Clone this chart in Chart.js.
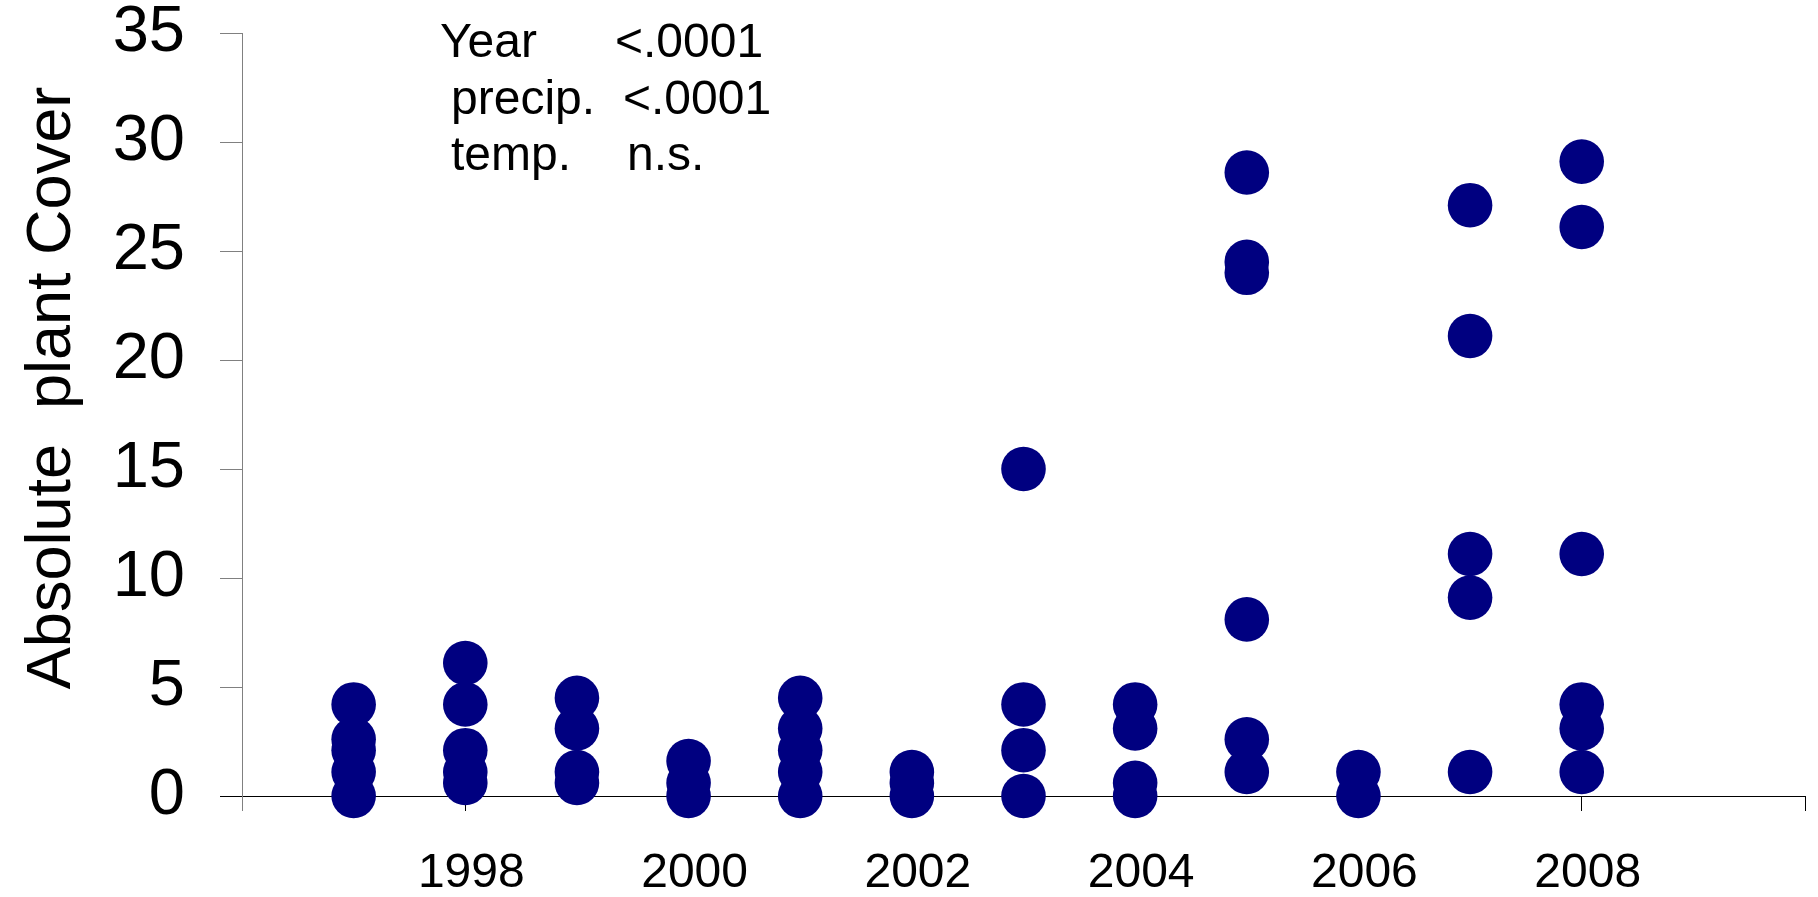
<!DOCTYPE html>
<html>
<head>
<meta charset="utf-8">
<script src="https://cdn.jsdelivr.net/npm/chart.js@4/dist/chart.umd.min.js"></script>
<style>
  html, body { margin: 0; padding: 0; background: #ffffff; }
  #wrap { width: 1818px; height: 897px; }
</style>
</head>
<body>
<div id="wrap"><canvas id="cover" width="1818" height="897"></canvas></div>
<script>
// Survey years and the absolute plant cover measured in each plot that year
const years = [1997, 1998, 1999, 2000, 2001, 2002, 2003, 2004, 2005, 2006, 2007, 2008];
const cover1997 = [4.2, 2.6, 2.1, 1.1, 0];
const cover1998 = [6.1, 4.2, 2.1, 1.1, 0.6];
const cover1999 = [4.5, 3.1, 1.1, 0.6];
const cover2000 = [1.6, 0.6, 0];
const cover2001 = [4.5, 3.1, 2.1, 1.1, 0];
const cover2002 = [1.1, 0.6, 0];
const cover2003 = [15.0, 4.2, 2.1, 0];
const cover2004 = [4.2, 3.1, 0.6, 0];
const cover2005 = [28.6, 24.5, 24.0, 8.1, 2.6, 1.1];
const cover2006 = [1.1, 0];
const cover2007 = [27.1, 21.1, 11.1, 9.1, 1.1];
const cover2008 = [29.1, 26.1, 11.1, 4.2, 3.1, 1.1];
const coverPerYear = [cover1997, cover1998, cover1999, cover2000, cover2001, cover2002,
                      cover2003, cover2004, cover2005, cover2006, cover2007, cover2008];

// Axis ticks
const xTickYears = [1996, 1998, 2000, 2002, 2004, 2006, 2008, 2010];
const xLabelYears = [1998, 2000, 2002, 2004, 2006, 2008];
const xTickMarkYears = [1996, 1998, 2008, 2010];
const yTicks = [0, 5, 10, 15, 20, 25, 30, 35];

// Model significance summary
const statTerms = ['Year', 'precip.', 'temp.'];
const statPValues = ['<.0001', '<.0001', 'n.s.'];

const yTitle = 'Absolute  plant Cover';

const points = [];
years.forEach((yr, i) => {
  coverPerYear[i].forEach(v => points.push({ x: yr, y: v }));
});

const FONT = "'Liberation Sans', Arial, Helvetica, sans-serif";

// Vertical axis title and the significance table
const textPlugin = {
  id: 'coverText',
  afterDraw(chart) {
    const ctx = chart.ctx;
    ctx.save();
    ctx.fillStyle = '#000000';
    ctx.font = '63px ' + FONT;
    ctx.textAlign = 'center';
    ctx.textBaseline = 'alphabetic';
    ctx.translate(70, 388);
    ctx.rotate(-Math.PI / 2);
    ctx.fillText(yTitle, 0, 0);
    ctx.restore();

    ctx.save();
    ctx.fillStyle = '#000000';
    ctx.font = '48px ' + FONT;
    ctx.textAlign = 'left';
    ctx.textBaseline = 'alphabetic';
    const termX = [440, 451, 451];
    const pX = [615, 623, 627];
    const baseY = [57, 114, 170];
    statTerms.forEach((t, i) => {
      ctx.fillText(t, termX[i], baseY[i]);
      ctx.fillText(statPValues[i], pX[i], baseY[i]);
    });
    ctx.restore();
  }
};

new Chart(document.getElementById('cover'), {
  type: 'scatter',
  data: {
    datasets: [{
      data: points,
      backgroundColor: '#000080',
      borderWidth: 0,
      pointRadius: 22.3,
      pointHoverRadius: 22.3,
      clip: false
    }]
  },
  options: {
    responsive: false,
    animation: false,
    events: [],
    layout: { autoPadding: false, padding: { top: 33, right: 13, left: 0, bottom: 0 } },
    plugins: {
      legend: { display: false },
      tooltip: { enabled: false },
      title: { display: false }
    },
    scales: {
      x: {
        type: 'linear',
        min: 1996,
        max: 2010,
        afterBuildTicks(scale) {
          scale.ticks = xTickYears.map(v => ({ value: v }));
        },
        afterFit(scale) {
          scale.height = 101;
          scale.paddingLeft = 0;
          scale.paddingRight = 0;
        },
        border: { display: true, color: '#000000', width: 1 },
        grid: {
          drawOnChartArea: false,
          drawTicks: true,
          tickLength: 15,
          lineWidth: 1,
          tickColor: (c) => {
            const v = c.tick ? c.tick.value : null;
            if (v === 1996) return '#808080';
            return xTickMarkYears.includes(v) ? '#000000' : 'rgba(0,0,0,0)';
          }
        },
        ticks: {
          autoSkip: false,
          maxRotation: 0,
          minRotation: 0,
          padding: 34,
          labelOffset: 6,
          color: '#000000',
          font: { family: FONT, size: 48, lineHeight: 1.2 },
          callback: (v) => xLabelYears.includes(v) ? String(v) : ''
        }
      },
      y: {
        type: 'linear',
        min: 0,
        max: 35,
        afterBuildTicks(scale) {
          scale.ticks = yTicks.map(v => ({ value: v }));
        },
        afterFit(scale) {
          scale.width = 242;
          scale.paddingTop = 0;
          scale.paddingBottom = 0;
        },
        border: { display: true, color: '#808080', width: 1 },
        grid: {
          drawOnChartArea: false,
          drawTicks: true,
          tickLength: 22,
          lineWidth: 1,
          tickColor: (c) => (c.tick && c.tick.value === 0) ? '#000000' : '#808080'
        },
        ticks: {
          autoSkip: false,
          padding: 35,
          color: '#000000',
          font: { family: FONT, size: 65, lineHeight: 1 },
          callback: (v) => String(v)
        }
      }
    }
  },
  plugins: [textPlugin]
});
</script>
</body>
</html>
